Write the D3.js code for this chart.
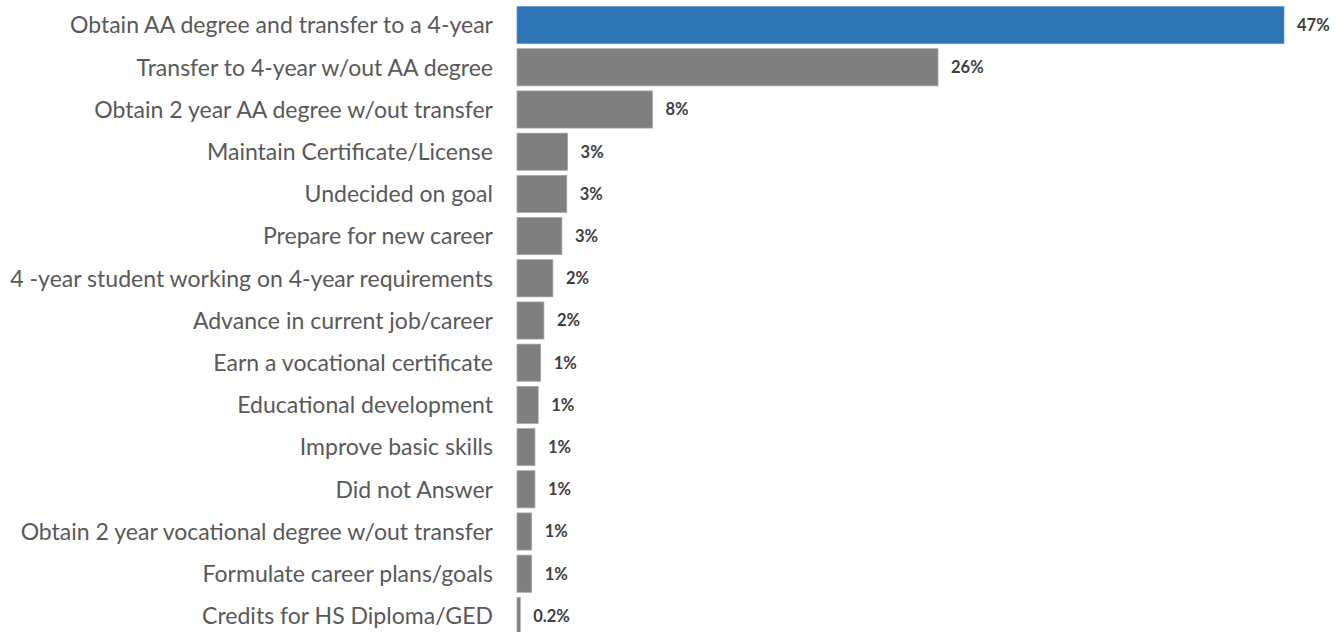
<!DOCTYPE html>
<html>
<head>
<meta charset="utf-8">
<script src="https://cdn.jsdelivr.net/npm/d3@7/dist/d3.min.js"></script>
<style>
  html, body { margin: 0; padding: 0; background: #ffffff; }
  svg { display: block; }
</style>
</head>
<body>
<svg id="chart" width="1340" height="632"></svg>
<script>
// Student goals, share of respondents (%)
const categories = [
  "Obtain AA degree and transfer to a 4-year",
  "Transfer to 4-year w/out AA degree",
  "Obtain 2 year AA degree w/out transfer",
  "Maintain Certificate/License",
  "Undecided on goal",
  "Prepare for new career",
  "4 -year student working on 4-year requirements",
  "Advance in current job/career",
  "Earn a vocational certificate",
  "Educational development",
  "Improve basic skills",
  "Did not Answer",
  "Obtain 2 year vocational degree w/out transfer",
  "Formulate career plans/goals",
  "Credits for HS Diploma/GED"
];
const values = [47.0, 25.8, 8.3, 3.1, 3.05, 2.75, 2.2, 1.65, 1.45, 1.3, 1.1, 1.1, 0.9, 0.9, 0.2];
const highlighted = ["Obtain AA degree and transfer to a 4-year"];

const data = categories.map((c, i) => ({ category: c, value: values[i] }));

const svg = d3.select("#chart");
const labelFont = "Lato, 'Open Sans', sans-serif";
const labelRight = 493;   // right edge of the category labels
const labelLeft = 10;     // where the longest category label should start

const x = d3.scaleLinear()
  .domain([0, 47])
  .range([517, 1284]);

const y = d3.scaleBand()
  .domain(categories)
  .range([4, 637])
  .paddingInner(0.12)
  .paddingOuter(0.06);

const fmt = v => (v > 0 && Math.round(v) === 0) ? d3.format(".1f")(v) + "%" : d3.format(".0f")(v) + "%";

// Bars
svg.append("g")
  .selectAll("rect")
  .data(data)
  .join("rect")
  .attr("x", x(0))
  .attr("y", d => y(d.category))
  .attr("width", d => Math.max(0, x(d.value) - x(0)))
  .attr("height", y.bandwidth())
  .attr("fill", d => highlighted.includes(d.category) ? "#2e75b6" : "#7f7f7f")
  .attr("stroke", d => highlighted.includes(d.category) ? "#5b9bd5" : "#a6a6a6")
  .attr("stroke-width", 0.75);

// Value labels
svg.append("g")
  .selectAll("text")
  .data(data)
  .join("text")
  .attr("x", d => x(d.value) + 13)
  .attr("y", d => y(d.category) + y.bandwidth() / 2)
  .attr("dy", "0.36em")
  .attr("font-family", labelFont)
  .attr("font-size", 16.5)
  .attr("font-weight", "bold")
  .attr("fill", "#404040")
  .text(d => fmt(d.value));

// Category axis
const yAxis = d3.axisLeft(y).tickSize(0).tickPadding(x(0) - labelRight);
const ga = svg.append("g")
  .attr("transform", `translate(${x(0)},0)`)
  .call(yAxis);
ga.select(".domain").remove();
const ticks = ga.selectAll("text")
  .attr("font-family", labelFont)
  .attr("font-size", 20)
  .attr("fill", "#595959")
  .attr("dy", "0.36em");

// Size the category font so the longest label spans the available width
const widest = d3.max(ticks.nodes(), n => n.getComputedTextLength());
const fitted = 20 * (labelRight - labelLeft) / widest;
ticks.attr("font-size", fitted);
</script>
</body>
</html>
